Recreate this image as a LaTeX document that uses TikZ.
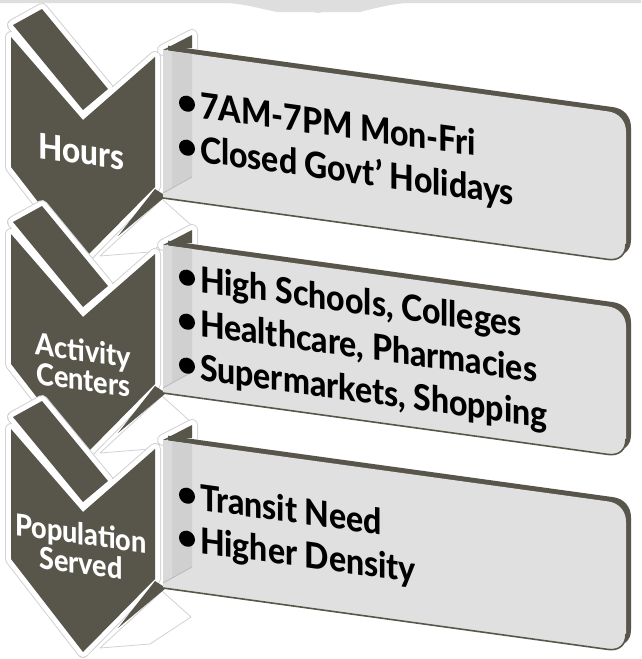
\documentclass[tikz,border=0pt]{standalone}
\usepackage{fontspec}
\newfontfamily\latoh{Lato Heavy}
\definecolor{olive}{HTML}{58564B}
\definecolor{facegrey}{HTML}{E0E0E0}
\definecolor{panelgrey}{HTML}{D0D0D0}
\definecolor{panellight}{HTML}{DADADA}
\definecolor{halo}{HTML}{D2D2D2}
\definecolor{bandgrey}{HTML}{DEDEDE}
% front face of a slanted box, local coordinates (y downwards)
\def\frontpath{(0,0) -- (445,0) .. controls (456,0) and (463,7) .. (463,18) -- (463,130) .. controls (463,141) and (456,148) .. (445,148) -- (0,148) -- cycle}
% vertically stretched text
\newcommand\tall[1]{\scalebox{1}[1.12]{#1}}
\begin{document}
\begin{tikzpicture}[x=1pt,y=-1pt,line join=round,
  every node/.style={inner sep=0pt,outer sep=0pt},
  boxtext/.style={transform shape,anchor=base west,font=\latoh\fontsize{32}{32}\selectfont,text=black},
  chevtext/.style={transform shape,align=center,font=\latoh\fontsize{27}{29.5}\selectfont,text=white}]
\useasboundingbox (0,0) rectangle (641,659);
\fill[white] (0,0) rectangle (641,659);

% page edge at the top
\fill[bandgrey] (0,0) -- (641,0) -- (641,3) -- (407,3)
  .. controls (390,4) and (372,9) .. (360,12) -- (277,12)
  .. controls (262,9) and (245,4) .. (227,3) -- (0,3) -- cycle;
\fill[bandgrey] (318,3) circle (10);

\foreach \dy/\T in {0/50,197/245,392/440}{
  % white halo around chevron, back bar and roof
  \foreach \w/\c in {12/halo,10/white}{
    \draw[\c,line width=\w]
      (13,{25+\dy}) -- (42,{9+\dy}) -- (108,{89+\dy}) -- (83,{110+\dy}) -- cycle
      (11,{37+\dy}) -- (83,{120+\dy}) -- (155,{57+\dy}) -- (155,{187+\dy}) -- (83,{260+\dy}) -- (11,{167+\dy}) -- cycle
      (163,\T) -- (192,{\T-15}) -- (192,{\T-2}) -- cycle;
  }
  \fill[olive] (13,{25+\dy}) -- (42,{9+\dy}) -- (108,{89+\dy}) -- (83,{110+\dy}) -- cycle;
  \fill[olive] (11,{37+\dy}) -- (83,{120+\dy}) -- (155,{57+\dy}) -- (155,{187+\dy}) -- (83,{260+\dy}) -- (11,{167+\dy}) -- cycle;
  % side of the chevron tip
  \filldraw[fill=white,draw=halo,line width=0.8] (162,{199+\dy}) -- (191,{225+\dy}) -- (150,{252+\dy}) -- (100,{256+\dy}) -- cycle;
  \fill[olive] (155,{189+\dy}) -- (166,{196+\dy}) -- (118,{236+\dy}) -- cycle;
  % slanted box
  \begin{scope}[shift={(163,\T)},yslant=-0.138]
    \fill[olive,shift={(5,-5)}] \frontpath;
    \fill[facegrey] \frontpath;
    \draw[olive,line width=1.6] (0,148) -- (445,148) .. controls (456,148) and (463,141) .. (463,130);
    \fill[panelgrey] (0,0) -- (29,0) -- (29,123) -- (0,143) -- cycle;
    \fill[panellight] (0,0) -- (9,0) -- (9,137) -- (0,143) -- cycle;
    \draw[black!25,line width=1] (0,143) -- (29,123);
  \end{scope}
  \fill[olive] (163,\T) -- (192,{\T-15}) -- (192,{\T-2}) -- cycle;
}

% box texts
\begin{scope}[shift={(200,118)},yslant=-0.138]
  \node[boxtext] (h1) at (0,0) {\tall{7AM-7PM Mon-Fri}};
  \node[boxtext] (h2) at (0,44) {\tall{Closed Govt’ Holidays}};
  \fill (-13,-12.5) circle (8) (-13,31.5) circle (8);
\end{scope}
\begin{scope}[shift={(200,292)},yslant=-0.138]
  \node[boxtext] (a1) at (0,0) {\tall{High Schools, Colleges}};
  \node[boxtext] (a2) at (0,44) {\tall{Healthcare, Pharmacies}};
  \node[boxtext] (a3) at (0,88) {\tall{Supermarkets, Shopping}};
  \fill (-13,-12.5) circle (8) (-13,31.5) circle (8) (-13,75.5) circle (8);
\end{scope}
\begin{scope}[shift={(200,510)},yslant=-0.138]
  \node[boxtext] (p1) at (0,0) {\tall{Transit Need}};
  \node[boxtext] (p2) at (0,43) {\tall{Higher Density}};
  \fill (-13,-12.5) circle (8) (-13,30.5) circle (8);
\end{scope}

% chevron labels
\begin{scope}[shift={(81.5,164)},yslant=-0.138]
  \node[transform shape,anchor=base,font=\latoh\fontsize{31.5}{31.5}\selectfont,text=white] (hours) at (0,0) {\tall{Hours}};
\end{scope}
\begin{scope}[shift={(83.5,365)},yslant=-0.138]
  \node[chevtext] (act) at (0,0) {\tall{Activity}\\\tall{Centers}};
\end{scope}
\begin{scope}[shift={(81,548)},yslant=-0.138]
  \node[chevtext] (pop) at (0,0) {\tall{Population}\\\tall{Served}};
\end{scope}
\end{tikzpicture}
\end{document}
